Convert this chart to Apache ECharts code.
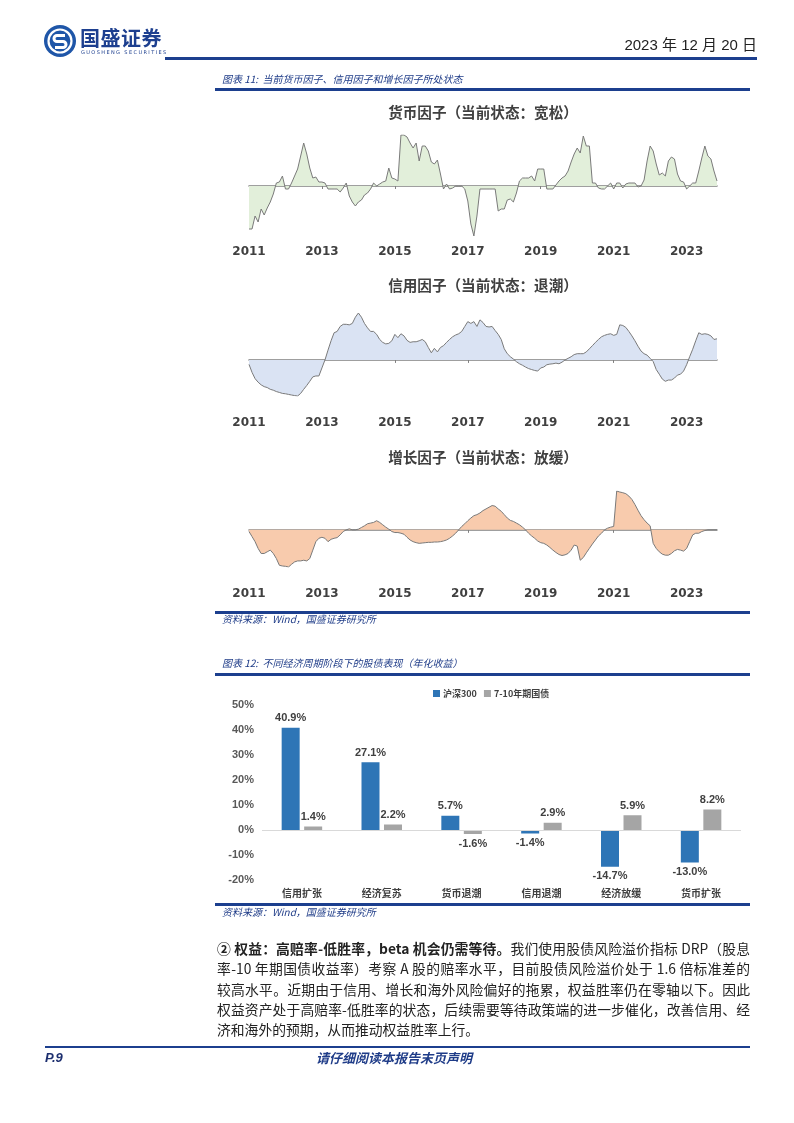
<!DOCTYPE html>
<html>
<head>
<meta charset="utf-8">
<script src="https://cdn.jsdelivr.net/npm/echarts/dist/echarts.min.js"></script>
<style>
  html, body { margin: 0; padding: 0; background: #fff; }
  #page { position: relative; width: 794px; height: 1123px; overflow: hidden; background: #fff;
          font-family: "Noto Sans CJK SC", "Noto Sans", sans-serif; }
  #chart { position: absolute; left: 0; top: 0; width: 794px; height: 1123px; }
  .abs { position: absolute; white-space: nowrap; }
  .rule { position: absolute; background: #1c3f8e; }
  .cap { font-size: 10px; font-style: italic; color: #1f3c88; line-height: 12px; }
  .ctitle { font-size: 14.6px; font-weight: bold; color: #404040; width: 240px; text-align: center; line-height: 16px; }
  .para { position: absolute; left: 217px; width: 533px; font-size: 13.8px; line-height: 20px; color: #222;
          text-align: justify; text-align-last: justify; white-space: nowrap; }
  .para.last { text-align-last: left; }
</style>
</head>
<body>
<div id="page">
  <div id="chart"></div>

  <!-- header -->
  <svg class="abs" style="left:43px;top:24px" width="34" height="34" viewBox="0 0 34 34">
    <circle cx="17" cy="17" r="16" fill="#1f56a8"/>
    <circle cx="17" cy="17" r="11.5" fill="none" stroke="#fff" stroke-width="2.2"/>
    <path d="M22 11.5 H14 a3 3 0 0 0 0 6 H20 a3 3 0 0 1 0 6 H12" fill="none" stroke="#fff" stroke-width="3"/>
  </svg>
  <div class="abs" style="left:80px;top:27px;font-size:20px;font-weight:bold;color:#1d3f8f;letter-spacing:0.5px;line-height:22px">国盛证券</div>
  <div class="abs" style="left:81px;top:49px;font-size:5px;color:#1d3f8f;letter-spacing:1.4px;line-height:6px;font-family:'DejaVu Sans'">GUOSHENG SECURITIES</div>
  <div class="abs" style="right:37px;top:36px;font-size:15px;color:#222;line-height:18px;font-family:'Liberation Sans','Noto Sans CJK SC'">2023 年 12 月 20 日</div>
  <div class="rule" style="left:165px;top:57px;width:592px;height:3px"></div>

  <div class="abs cap" style="left:222px;top:73px">图表 11:&nbsp; 当前货币因子、信用因子和增长因子所处状态</div>
  <div class="rule" style="left:215px;top:88px;width:535px;height:3px"></div>

  <div class="abs ctitle" style="left:363px;top:104px">货币因子（当前状态：宽松）</div>
  <div class="abs ctitle" style="left:363px;top:277px">信用因子（当前状态：退潮）</div>
  <div class="abs ctitle" style="left:363px;top:449px">增长因子（当前状态：放缓）</div>

  <div class="rule" style="left:215px;top:611px;width:535px;height:3px"></div>
  <div class="abs cap" style="left:222px;top:613px">资料来源：Wind，国盛证券研究所</div>

  <div class="abs cap" style="left:222px;top:657px">图表 12:&nbsp; 不同经济周期阶段下的股债表现（年化收益）</div>
  <div class="rule" style="left:215px;top:673px;width:535px;height:3px"></div>

  <div class="rule" style="left:215px;top:903px;width:535px;height:3px"></div>
  <div class="abs cap" style="left:222px;top:906px">资料来源：Wind，国盛证券研究所</div>

  <div class="para" style="top:938px"><b>② 权益：高赔率-低胜率，beta 机会仍需等待。</b>我们使用股债风险溢价指标 DRP（股息</div>
  <div class="para" style="top:958px">率-10 年期国债收益率）考察 A 股的赔率水平，目前股债风险溢价处于 1.6 倍标准差的</div>
  <div class="para" style="top:979px">较高水平。近期由于信用、增长和海外风险偏好的拖累，权益胜率仍在零轴以下。因此</div>
  <div class="para" style="top:999px">权益资产处于高赔率-低胜率的状态，后续需要等待政策端的进一步催化，改善信用、经</div>
  <div class="para last" style="top:1019px">济和海外的预期，从而推动权益胜率上行。</div>

  <div class="rule" style="left:45px;top:1046px;width:705px;height:2px"></div>
  <div class="abs" style="left:45px;top:1050px;font-size:13px;font-weight:bold;font-style:italic;color:#1d2f6f;line-height:16px;font-family:'Liberation Sans'">P.9</div>
  <div class="abs" style="left:316px;top:1050px;font-size:13px;font-weight:bold;font-style:italic;color:#1f3c88;line-height:16px">请仔细阅读本报告末页声明</div>
</div>

<script>
// ---------- data ----------
const startYear = 2011;
const yearTicks = ['2011', '2013', '2015', '2017', '2019', '2021', '2023'];

// 货币因子 (monthly, 2011-01 .. 2023-11)
const moneyFactor = [
  -43,-43,-30,-36,-23,-29,-22,-16,-8,3,
  4,10,-3,-3,3,10,17,30,43,32,
  18,8,9,4,4,3,-3,-3,-3,-3,
  -6,-2,3,-10,-16,-20,-16,-14,-9,-7,
  -3,3,0,2,4,5,18,8,7,5,
  51,51,49,43,38,43,25,40,40,35,
  24,22,26,12,-3,2,-3,-2,0,0,
  0,-3,-15,-38,-50,-30,-3,-3,-3,-3,
  -3,-3,-25,-23,-23,-14,-13,-16,-7,5,
  8,8,8,10,5,17,17,17,-3,-3,
  -3,1,5,8,10,15,24,32,38,33,
  50,40,40,3,3,-2,-3,-3,0,3,
  -3,3,3,-2,2,3,3,3,-1,0,
  6,25,40,35,22,11,13,10,25,29,
  27,12,5,4,-3,0,3,3,15,28,
  40,30,27,15,5
];

// 信用因子
const creditFactor = [
  -5,-14,-21,-25,-28,-30,-31,-33,-34,-35.5,
  -36.5,-37.6,-38,-38.7,-39.4,-40,-40.5,-37.6,-33,-28.7,
  -24,-19,-18,-18,-9,0,11,21.5,30.5,32,
  37.6,40,40,39.4,41,48,52.7,48,41,36,
  32,32,28.7,23,19.7,18,18.6,21.5,28.7,25,
  29.4,27,22,19.7,20.4,20.4,21.5,23,20.4,14,
  8,13,9,14,16,19.7,23,26,28,29.4,
  32,37.6,43,41,43,37.6,45,42,37.6,37,
  37.6,33,28.7,23,12.5,7,3.6,1,-2,-4.3,
  -6,-8,-9.7,-10.8,-11.8,-12.5,-9,-8,-5.4,-4.7,
  -4.3,-3.6,-4.3,-2.5,0,1.8,3.6,6,7,7,
  7,9,12.5,16,19.7,23,26,27.6,28.7,29.4,
  27.6,28.7,39.4,38.7,36.5,32,27,21.5,15.4,10,
  7,5.4,1.8,-1.8,-10.8,-16,-21.5,-24,-22.6,-22.6,
  -20.4,-17,-16,-12.5,-5.4,3.6,12,21.5,30.5,28.7,
  29.4,28.7,27,23,23.7
];

// 增长因子
const growthFactor = [
  -5,-20,-35,-55,-70,-70,-65,-60,-70,-85,
  -105,-107,-108,-110,-102,-95,-92,-92,-90,-92,
  -85,-60,-35,-25,-22,-25,-35,-28,-25,-23,
  -15,-5,0,3,0,0,2,7,12,18,
  20,22,27,22,15,8,2,-5,-8,-8,
  -10,-13,-22,-30,-35,-38,-40,-39,-38,-37,
  -37,-36,-36,-35,-33,-30,-25,-18,-10,0,
  10,18,27,35,42,45,50,57,62,67,
  72,70,62,55,45,35,28,25,20,15,
  8,0,-10,-18,-25,-33,-38,-40,-45,-52,
  -60,-67,-73,-76,-74,-70,-60,-45,-48,-90,
  -82,-68,-55,-42,-30,-18,-10,0,5,8,
  10,115,112,110,107,100,90,75,58,42,
  30,20,12,-40,-55,-65,-72,-75,-75,-70,
  -62,-58,-60,-63,-55,-35,-15,-10,-10,-5,
  -2,0,0,0,0
];

// 图表12
const stages = ['信用扩张', '经济复苏', '货币退潮', '信用退潮', '经济放缓', '货币扩张'];
const hs300 = [40.9, 27.1, 5.7, -1.4, -14.7, -13.0];
const bond710 = [1.4, 2.2, -1.6, 2.9, 5.9, 8.2];
const barTicks = [-20, -10, 0, 10, 20, 30, 40, 50];

// ---------- build ----------
const months = [];
for (let i = 0; i < moneyFactor.length; i++) {
  const y = startYear + Math.floor(i / 12);
  const m = (i % 12) + 1;
  months.push(y + '-' + (m < 10 ? '0' + m : m));
}
const isTick = (idx, val) => {
  const v = typeof val === 'string' ? val : months[idx];
  return v.slice(5) === '01' && yearTicks.indexOf(v.slice(0, 4)) >= 0;
};

const areaGrids = [
  { top: 135, height: 101, min: -50, max: 51, data: moneyFactor, fill: '#e2efda', margin: 10 },
  { top: 313, height: 83, min: -40.5, max: 52.7, data: creditFactor, fill: '#dae3f3', margin: 21 },
  { top: 491, height: 76, min: -110, max: 115, data: growthFactor, fill: '#f8cbad', margin: 21 }
];

const grid = [], xAxis = [], yAxis = [], series = [];
areaGrids.forEach((g, i) => {
  grid.push({ left: 249, width: 468, top: g.top, height: g.height, containLabel: false });
  xAxis.push({
    type: 'category', gridIndex: i, data: months, boundaryGap: false,
    axisLine: { onZero: true, lineStyle: { color: '#808080', width: 1.5 } },
    axisTick: { show: true, interval: isTick, length: 3, lineStyle: { color: '#808080' } },
    axisLabel: {
      interval: isTick, margin: g.margin,
      formatter: v => v.slice(0, 4),
      fontFamily: 'DejaVu Sans', fontWeight: 'bold', fontSize: 12, color: '#404040'
    },
    splitLine: { show: false }
  });
  yAxis.push({ type: 'value', gridIndex: i, min: g.min, max: g.max, show: false, splitLine: { show: false } });
  series.push({
    type: 'line', xAxisIndex: i, yAxisIndex: i, data: g.data, symbol: 'none',
    lineStyle: { color: '#7a7a7a', width: 1 },
    areaStyle: { color: g.fill, opacity: 1 },
    animation: false, silent: true
  });
});

// bar chart
grid.push({ left: 262, width: 479, top: 705, height: 175, containLabel: false });
xAxis.push({
  type: 'category', gridIndex: 3, data: stages,
  axisLine: { show: false, onZero: false }, axisTick: { show: false },
  axisLabel: { margin: 8, fontSize: 10, fontWeight: 'bold', color: '#404040', fontFamily: 'Noto Sans CJK SC' }
});
yAxis.push({
  type: 'value', gridIndex: 3, min: barTicks[0], max: barTicks[barTicks.length - 1], interval: 10,
  axisLine: { show: false }, axisTick: { show: false }, splitLine: { show: false },
  axisLabel: { margin: 8, formatter: '{value}%', fontSize: 11, fontWeight: 'bold', color: '#595959', fontFamily: 'Liberation Sans' }
});
const lbl = v => ({
  value: v,
  label: { position: v >= 0 ? 'top' : 'bottom' }
});
const barLabel = {
  show: true, distance: 4, formatter: p => p.value.toFixed(1) + '%',
  fontSize: 11, fontWeight: 'bold', color: '#404040', fontFamily: 'Liberation Sans'
};
series.push({
  name: '沪深300', type: 'bar', xAxisIndex: 3, yAxisIndex: 3, data: hs300.map(lbl),
  barWidth: 18, barGap: '25%', itemStyle: { color: '#2e75b6' }, label: barLabel,
  animation: false,
  markLine: {
    silent: true, symbol: ['none', 'none'], label: { show: false },
    lineStyle: { color: '#d9d9d9', type: 'solid', width: 1 },
    data: [{ yAxis: 0 }], animation: false
  }
});
series.push({
  name: '7-10年期国债', type: 'bar', xAxisIndex: 3, yAxisIndex: 3, data: bond710.map(lbl),
  barWidth: 18, barGap: '25%', itemStyle: { color: '#a5a5a5' }, label: barLabel,
  animation: false
});

const chart = echarts.init(document.getElementById('chart'), null, { renderer: 'canvas', width: 794, height: 1123 });
chart.setOption({
  animation: false,
  backgroundColor: 'transparent',
  grid, xAxis, yAxis, series,
  legend: {
    data: ['沪深300', '7-10年期国债'],
    left: 428, top: 684, itemWidth: 7, itemHeight: 7, itemGap: 7,
    icon: 'rect',
    textStyle: { fontSize: 9, fontWeight: 'bold', color: '#404040', fontFamily: 'Noto Sans CJK SC', padding: [0, 0, 0, -2] }
  }
});
</script>
</body>
</html>
